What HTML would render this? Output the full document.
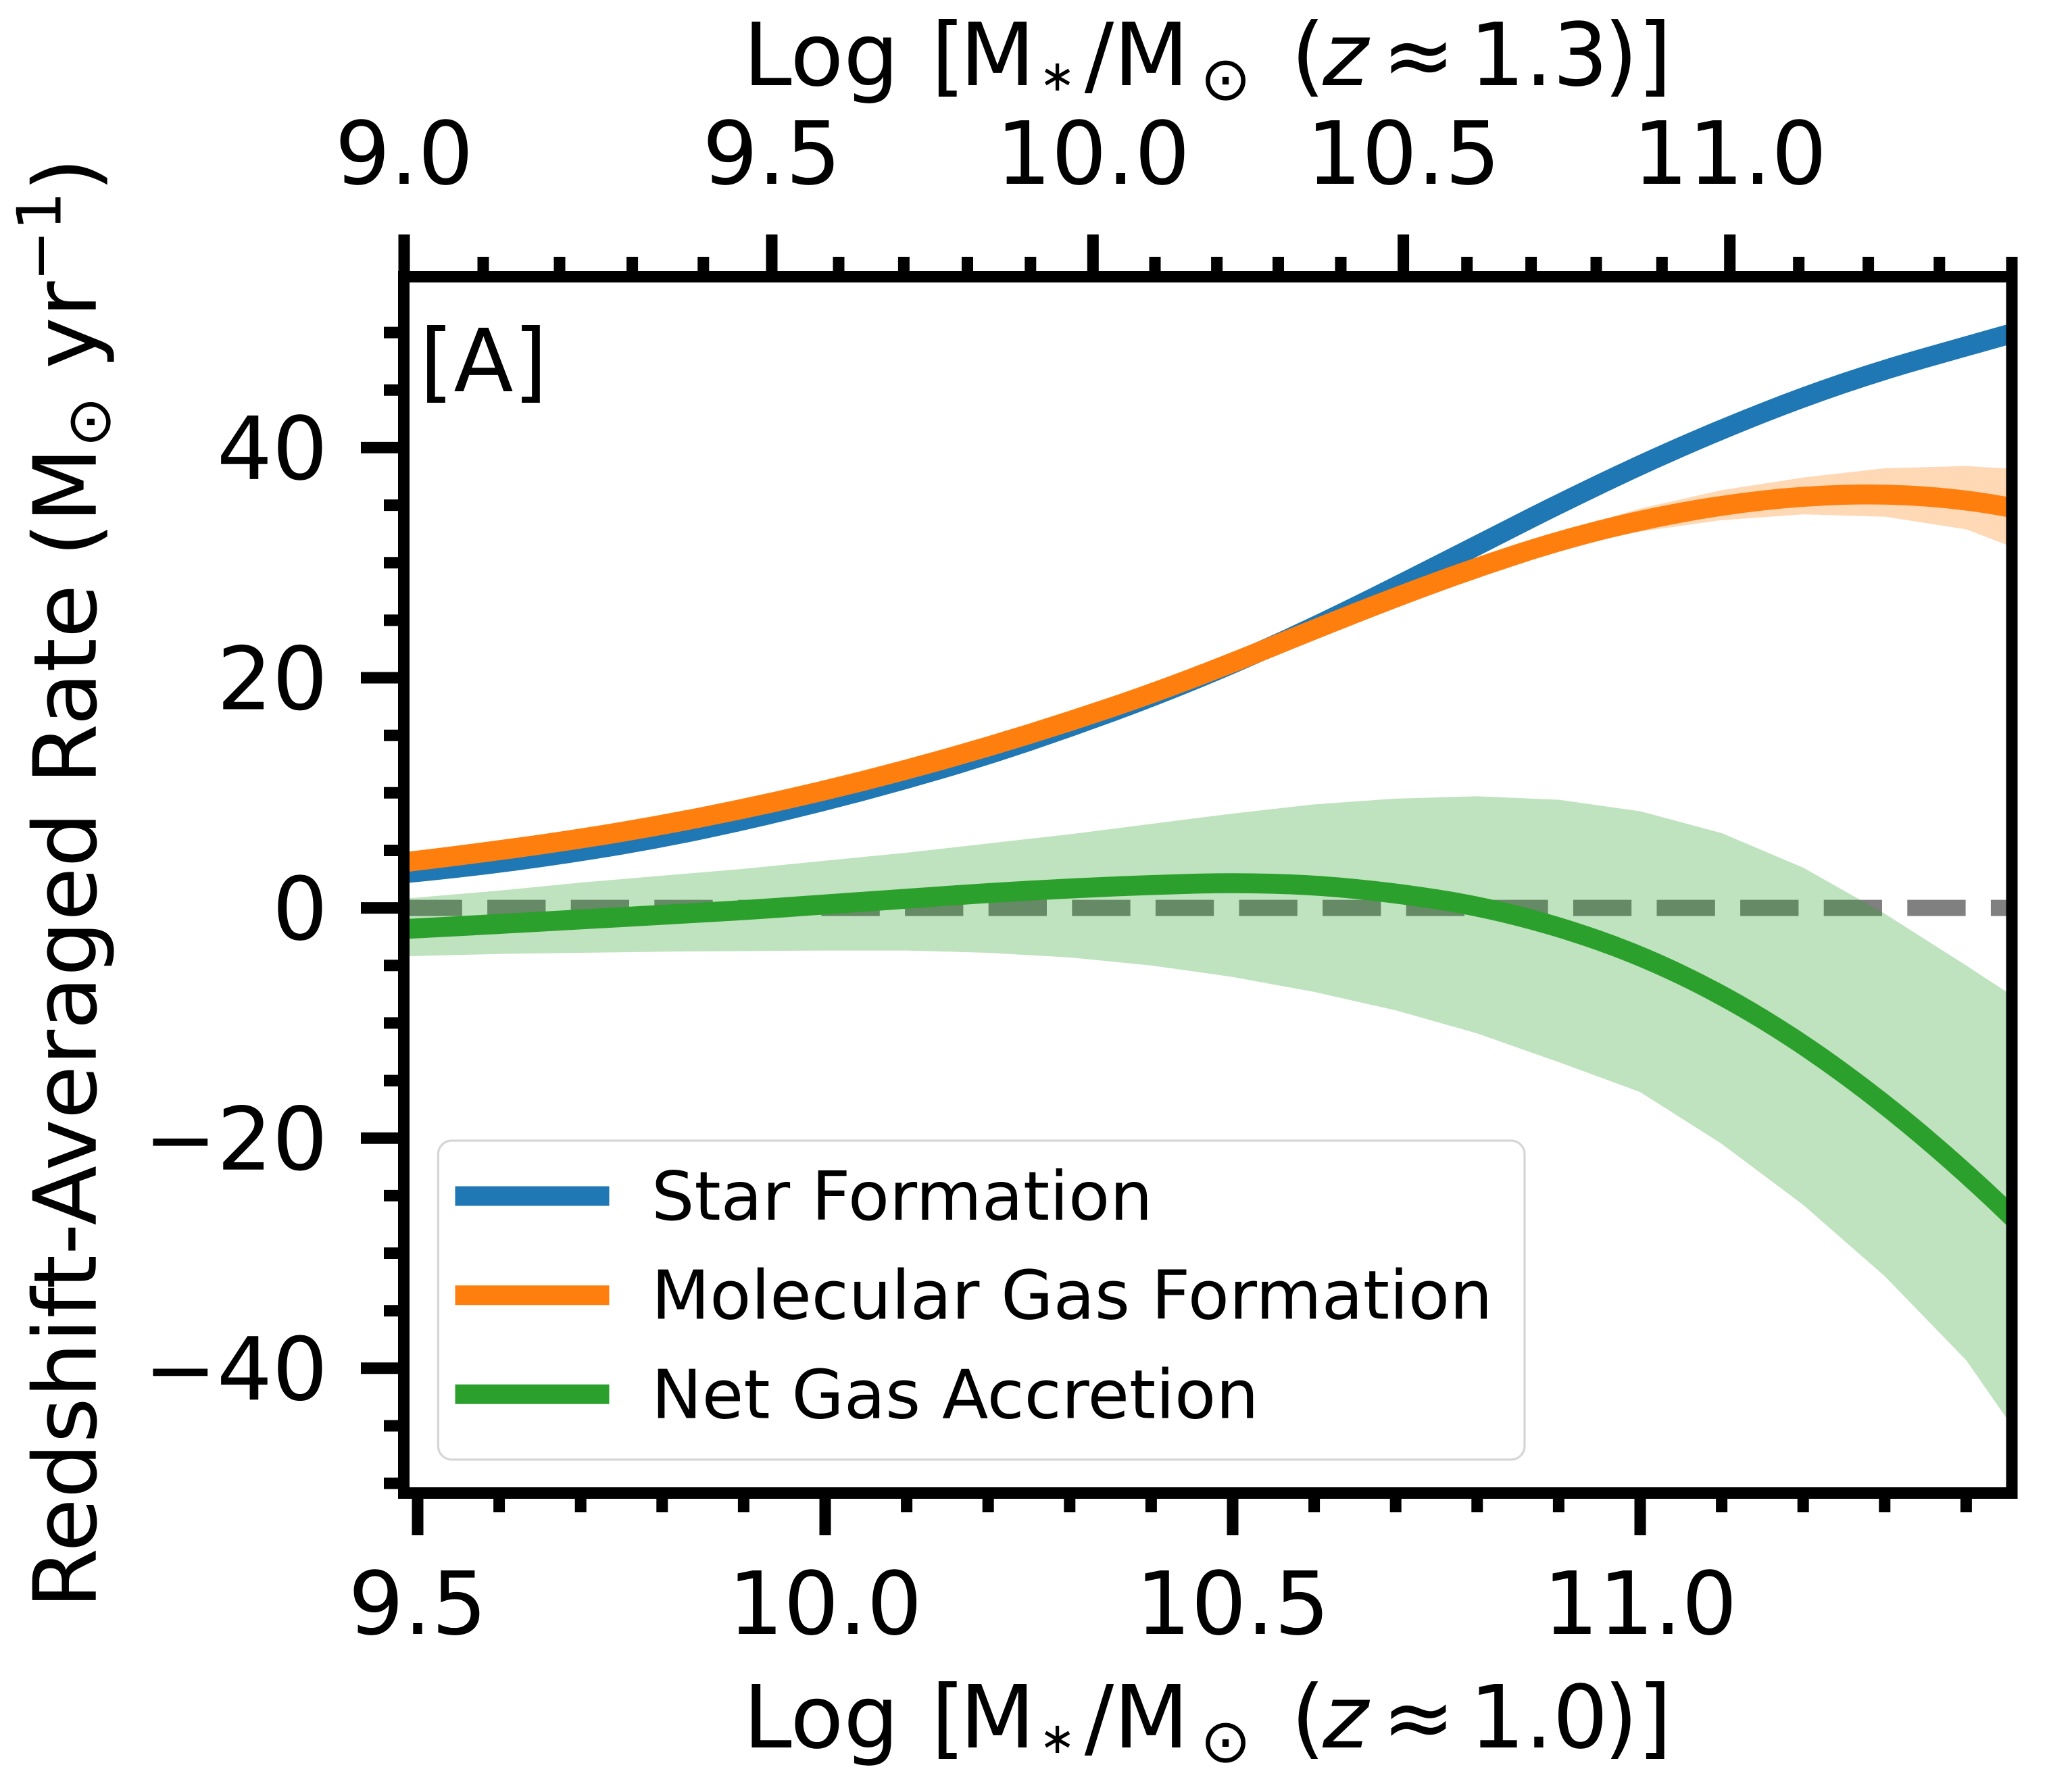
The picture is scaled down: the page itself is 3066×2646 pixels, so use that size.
<!DOCTYPE html>
<html>
<head>
<meta charset="utf-8">
<style>
html,body{margin:0;padding:0;background:#fff}
svg{display:block}
</style>
</head>
<body>
<svg width="3066" height="2646" viewBox="0 0 3066 2646" xmlns="http://www.w3.org/2000/svg" font-family="'DejaVu Sans','Liberation Sans',sans-serif">
<defs>
<clipPath id="ax"><rect x="597.5" y="409.5" width="2379.5" height="1800"/></clipPath>
</defs>
<rect x="0" y="0" width="3066" height="2646" fill="#fff"/>

<g clip-path="url(#ax)">
  <!-- zero dashed line -->
  <line x1="597.5" y1="1343.6" x2="2977" y2="1343.6" stroke="#808080" stroke-width="24" stroke-dasharray="86.3 37.3"/>
  <g transform="matrix(1206,0,0,-17.03,-10839,1343.6)">
    <!-- blue -->
    <path fill="none" stroke="#1f77b4" stroke-width="29.5" vector-effect="non-scaling-stroke" stroke-linejoin="round"
      d="M9.45,2.8 Q9.5,3.1 9.55,3.5 Q9.6,3.9 9.65,4.4 Q9.7,4.9 9.75,5.5 Q9.8,6.1 9.85,6.85 Q9.9,7.6 9.95,8.45 Q10,9.3 10.05,10.25 Q10.1,11.2 10.15,12.25 Q10.2,13.3 10.25,14.5 Q10.3,15.7 10.35,17 Q10.4,18.3 10.45,19.75 Q10.5,21.2 10.55,22.8 Q10.6,24.4 10.65,26.15 Q10.7,27.9 10.75,29.7 Q10.8,31.5 10.85,33.3 Q10.9,35.1 10.95,36.8 Q11,38.5 11.05,40.05 Q11.1,41.6 11.15,43 Q11.2,44.4 11.25,45.6 Q11.3,46.8 11.35,47.8 Q11.4,48.8 11.45,49.8 L11.5,50.8"/>
    <!-- orange band -->
    <polygon fill="#ff7f0e" fill-opacity="0.3"
      points="9.47,4.3 9.6,5.4 9.7,6.4 9.8,7.6 9.9,9.0 10.0,10.6 10.1,12.4 10.2,14.4 10.3,16.6 10.4,19.0 10.5,21.7 10.6,24.6 10.7,27.4 10.8,30.1 10.9,32.6 11.0,34.7 11.1,36.3 11.2,37.4 11.3,38.2 11.4,38.4 11.47,38.1 11.47,31.0 11.4,32.9 11.3,34.0 11.2,34.2 11.1,33.7 11.0,32.7 10.9,31.2 10.8,29.1 10.7,26.6 10.6,23.8 10.5,20.9 10.4,18.2 10.3,15.8 10.2,13.6 10.1,11.6 10.0,9.8 9.9,8.2 9.8,6.8 9.7,5.6 9.6,4.6 9.47,3.5"/>
    <!-- orange line -->
    <path fill="none" stroke="#ff7f0e" stroke-width="29.5" vector-effect="non-scaling-stroke" stroke-linejoin="round"
      d="M9.45,3.7 Q9.5,4.1 9.55,4.55 Q9.6,5 9.65,5.5 Q9.7,6 9.75,6.6 Q9.8,7.2 9.85,7.9 Q9.9,8.6 9.95,9.4 Q10,10.2 10.05,11.1 Q10.1,12 10.15,13 Q10.2,14 10.25,15.1 Q10.3,16.2 10.35,17.4 Q10.4,18.6 10.45,19.95 Q10.5,21.3 10.55,22.75 Q10.6,24.2 10.65,25.6 Q10.7,27 10.75,28.3 Q10.8,29.6 10.85,30.75 Q10.9,31.9 10.95,32.8 Q11,33.7 11.05,34.35 Q11.1,35 11.15,35.4 Q11.2,35.8 11.25,35.9 Q11.3,36 11.35,35.75 Q11.4,35.5 11.45,34.85 L11.5,34.2"/>
    <!-- green band -->
    <polygon fill="#2ca02c" fill-opacity="0.3"
      points="9.47,0.7 9.483,0.8 9.6,1.5 9.7,2.2 9.8,2.8 9.9,3.4 10.0,4.1 10.1,4.8 10.2,5.6 10.3,6.4 10.4,7.3 10.5,8.2 10.6,9.0 10.7,9.5 10.8,9.7 10.9,9.4 11.0,8.4 11.1,6.5 11.2,3.5 11.3,-0.5 11.4,-5.0 11.456,-7.6 11.47,-8.3 11.47,-46.3 11.456,-45.0 11.4,-39.3 11.3,-32.0 11.2,-25.8 11.1,-20.5 11.0,-16.0 10.9,-13.4 10.8,-10.9 10.7,-8.9 10.6,-7.3 10.5,-6.0 10.4,-5.0 10.3,-4.3 10.2,-3.9 10.1,-3.7 10.0,-3.7 9.9,-3.75 9.8,-3.8 9.7,-3.9 9.6,-4.0 9.483,-4.2 9.47,-4.25"/>
    <!-- green line -->
    <path fill="none" stroke="#2ca02c" stroke-width="29.5" vector-effect="non-scaling-stroke" stroke-linejoin="round"
      d="M9.45,-1.96 Q9.5,-1.77 9.55,-1.585 Q9.6,-1.4 9.65,-1.2 Q9.7,-1 9.75,-0.8 Q9.8,-0.6 9.85,-0.4 Q9.9,-0.2 9.95,0.05 Q10,0.3 10.05,0.55 Q10.1,0.8 10.15,1.05 Q10.2,1.3 10.25,1.5 Q10.3,1.7 10.35,1.85 Q10.4,2 10.45,2.1 Q10.5,2.2 10.55,2.1 Q10.6,2 10.65,1.65 Q10.7,1.3 10.75,0.75 Q10.8,0.2 10.85,-0.7 Q10.9,-1.6 10.95,-2.85 Q11,-4.1 11.05,-5.8 Q11.1,-7.5 11.15,-9.65 Q11.2,-11.8 11.25,-14.4 Q11.3,-17 11.35,-20 Q11.4,-23 11.45,-26.4 L11.5,-29.8"/>
  </g>
</g>

<!-- legend -->
<rect x="648.4" y="1688" width="1607.6" height="472" rx="20" ry="20" fill="#fff" fill-opacity="0.8" stroke="#d6d6d6" stroke-width="3.3"/>
<line x1="673.5" y1="1770" x2="901.5" y2="1770" stroke="#1f77b4" stroke-width="29"/>
<line x1="673.5" y1="1916.7" x2="901.5" y2="1916.7" stroke="#ff7f0e" stroke-width="29"/>
<line x1="673.5" y1="2063.3" x2="901.5" y2="2063.3" stroke="#2ca02c" stroke-width="29"/>
<g font-size="100" fill="#000">
  <text x="964" y="1805">Star Formation</text>
  <text x="964" y="1951.7">Molecular Gas Formation</text>
  <text x="964" y="2098.3">Net Gas Accretion</text>
</g>

<!-- panel label -->
<text x="621" y="579" font-size="129" fill="#000">[A]</text>

<!-- spines -->
<rect x="597.5" y="409.5" width="2379.5" height="1800" fill="none" stroke="#000" stroke-width="17"/>

<!-- ticks -->
<g stroke="#000" stroke-width="17" fill="none">
  <path d="M618 2209V2272M1221 2209V2272M1824 2209V2272M2427 2209V2272"/>
  <path d="M738.6 2209V2238M859.2 2209V2238M979.8 2209V2238M1100.4 2209V2238M1341.6 2209V2238M1462.2 2209V2238M1582.8 2209V2238M1703.4 2209V2238M1944.6 2209V2238M2065.2 2209V2238M2185.8 2209V2238M2306.4 2209V2238M2547.6 2209V2238M2668.2 2209V2238M2788.8 2209V2238M2909.4 2209V2238"/>
  <path d="M598 347V410M1142 347V410M1617.3 347V410M2076.6 347V410M2559.7 347V410"/>
  <path d="M715 380V410M828 380V410M935.6 380V410M1040.8 380V410M1241 380V410M1337.4 380V410M1431.5 380V410M1524.8 380V410M1709 380V410M1800.6 380V410M1891.5 380V410M1984 380V410M2170.7 380V410M2265.6 380V410M2362 380V410M2459.3 380V410M2661.7 380V410M2764.6 380V410M2869.8 380V410M2977 380V410"/>
  <path d="M534 662.4H598M534 1003H598M534 1343.6H598M534 1684.2H598M534 2024.8H598"/>
  <path d="M568 492.1H598M568 577.2H598M568 747.6H598M568 832.7H598M568 917.9H598M568 1088.2H598M568 1173.3H598M568 1258.5H598M568 1428.8H598M568 1513.9H598M568 1599.1H598M568 1769.4H598M568 1854.5H598M568 1939.7H598M568 2110H598M568 2195.1H598"/>
</g>

<!-- tick labels -->
<g font-size="129" fill="#000">
  <g text-anchor="middle">
    <text x="618" y="2418">9.5</text>
    <text x="1221" y="2418">10.0</text>
    <text x="1824" y="2418">10.5</text>
    <text x="2427" y="2418">11.0</text>
    <text x="598" y="272">9.0</text>
    <text x="1142" y="272">9.5</text>
    <text x="1617.3" y="272">10.0</text>
    <text x="2076.6" y="272">10.5</text>
    <text x="2559.7" y="272">11.0</text>
  </g>
  <g text-anchor="end">
    <text x="485" y="708.9">40</text>
    <text x="485" y="1049.5">20</text>
    <text x="485" y="1390.1">0</text>
    <text x="485" y="1730.7">−20</text>
    <text x="485" y="2071.3">−40</text>
  </g>
</g>

<!-- top axis label -->
<g font-size="129" fill="#000" text-anchor="middle">
  <text x="1215" y="126">Log</text>
  <text x="1403" y="126">[</text>
  <text x="1476" y="126">M</text>
  <text x="1564.5" y="134" font-size="64">∗</text>
  <text x="1626.5" y="126">/</text>
  <text x="1703.5" y="126">M</text>
  <text x="1813.5" y="147.5" font-size="90">⊙</text>
  <text x="1935.5" y="126">(</text>
  <text x="1991" y="126" font-style="italic">z</text>
  <text x="2099" y="126">≈</text>
  <text x="2277" y="126">1.3</text>
  <text x="2398.5" y="126">)</text>
  <text x="2448.5" y="126">]</text>
</g>

<!-- bottom axis label -->
<g font-size="129" fill="#000" text-anchor="middle">
  <text x="1215" y="2586">Log</text>
  <text x="1403" y="2586">[</text>
  <text x="1476" y="2586">M</text>
  <text x="1564.5" y="2594" font-size="64">∗</text>
  <text x="1626.5" y="2586">/</text>
  <text x="1703.5" y="2586">M</text>
  <text x="1813.5" y="2607.5" font-size="90">⊙</text>
  <text x="1935.5" y="2586">(</text>
  <text x="1991" y="2586" font-style="italic">z</text>
  <text x="2099" y="2586">≈</text>
  <text x="2277" y="2586">1.0</text>
  <text x="2398.5" y="2586">)</text>
  <text x="2448.5" y="2586">]</text>
</g>

<!-- y axis label -->
<text transform="translate(141.7,1307) rotate(-90)" text-anchor="middle" font-size="129" fill="#000">Redshift-Averaged Rate (M<tspan font-size="90" dy="21">⊙</tspan><tspan dy="-21"> yr</tspan><tspan font-size="90" dy="-52">−1</tspan><tspan dy="52">)</tspan></text>

</svg>
</body>
</html>
